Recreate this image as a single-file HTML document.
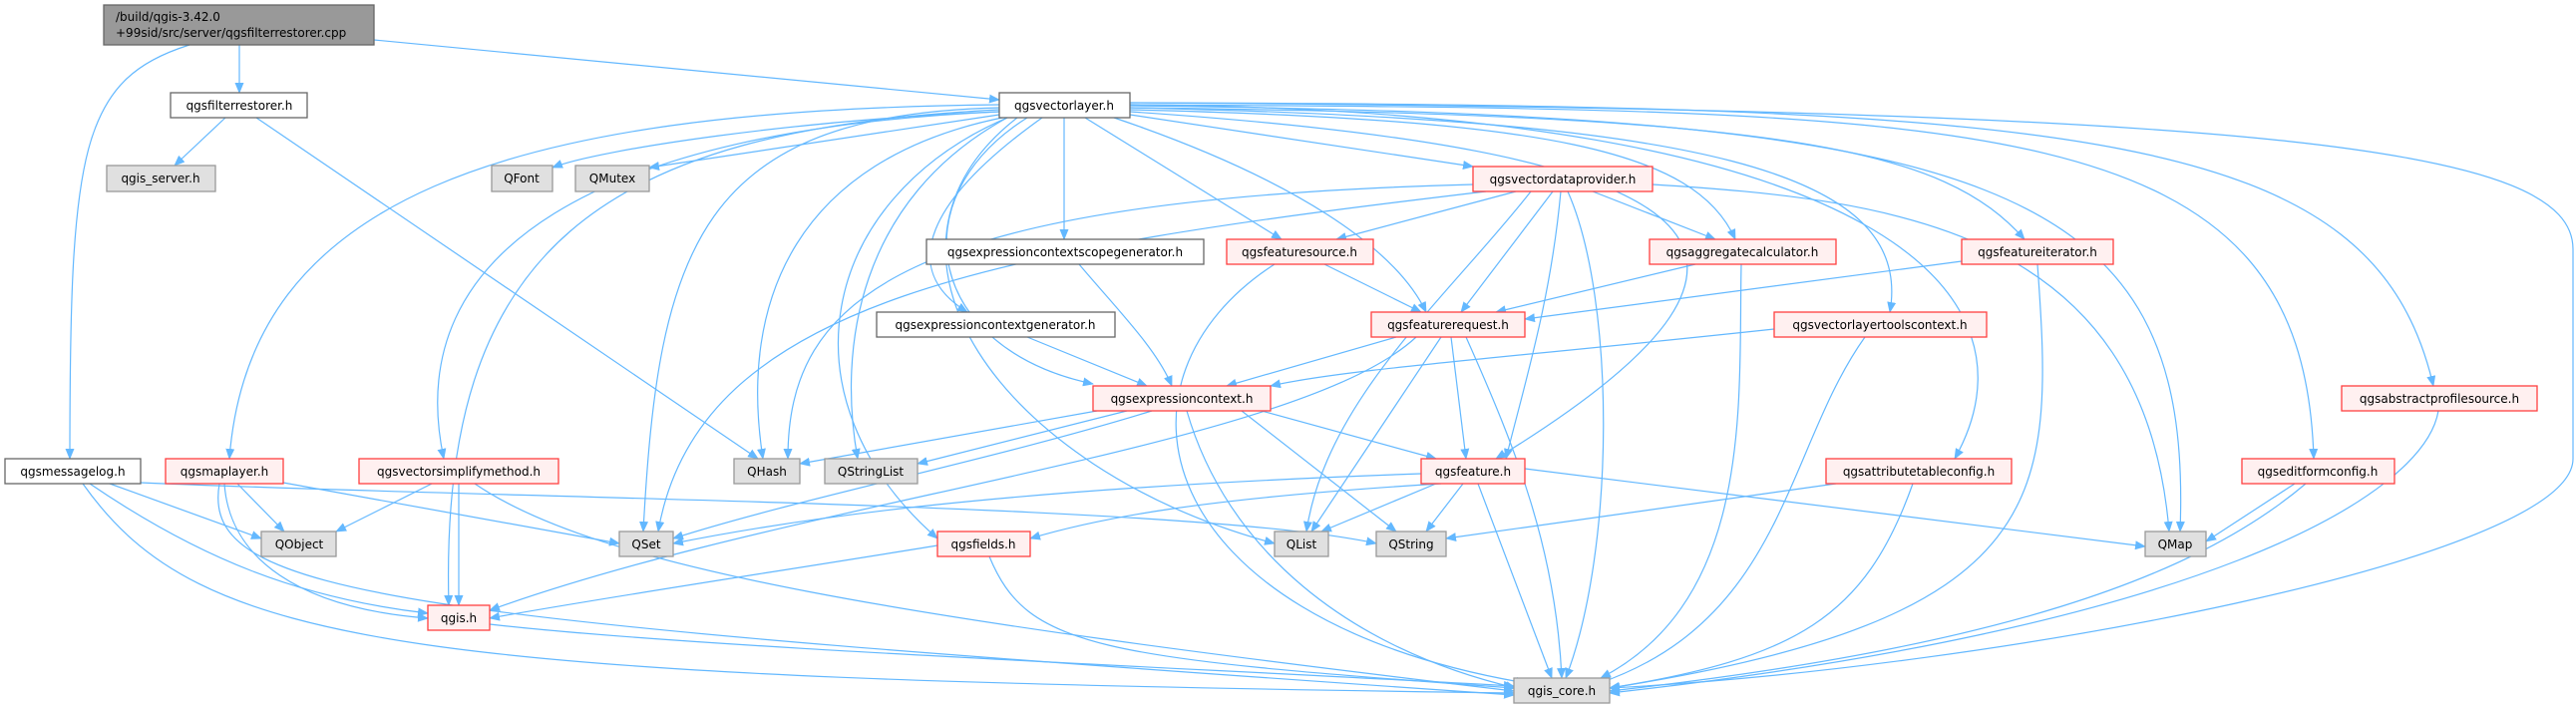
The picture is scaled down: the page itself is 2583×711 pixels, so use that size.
<!DOCTYPE html>
<html><head><meta charset="utf-8"><style>
html,body{margin:0;padding:0;background:#fff;}
svg{display:block;}
text{font-family:"DejaVu Sans","Liberation Sans",sans-serif;font-size:12px;fill:#000;}
.e{fill:none;stroke:#63b8ff;stroke-width:1.2;marker-end:url(#a);}
.r{fill:#fff0f0;stroke:#ff4040;stroke-width:1.3;}
.g{fill:#e0e0e0;stroke:#999;stroke-width:1.3;}
.w{fill:#fff;stroke:#666;stroke-width:1.3;}
</style></head><body>
<svg width="2583" height="711" viewBox="0 0 2583 711" xmlns="http://www.w3.org/2000/svg">
<defs><marker id="a" markerWidth="11" markerHeight="9" refX="10" refY="4.5" orient="auto" markerUnits="userSpaceOnUse"><path d="M0,0 L11,4.5 L0,9z" fill="#63b8ff"/></marker></defs>
<g>
<path class="e" d="M240 45 L240 93"/>
<path class="e" d="M375 40 L1002 100"/>
<path class="e" d="M190 45 C80 80,70 150,70 460"/>
<path class="e" d="M226 118 L175 166"/>
<path class="e" d="M257 118 L760 460"/>
<path class="e" d="M1002 112 C800 120,600 150,554 168"/>
<path class="e" d="M1002 115 L651 168"/>
<path class="e" d="M1002 108 C700 115,660 250,645 533"/>
<path class="e" d="M1005 118 C800 160,740 300,765 460"/>
<path class="e" d="M1010 118 C860 200,840 350,860 460"/>
<path class="e" d="M1002 110 C600 130,440 250,450 607"/>
<path class="e" d="M1002 105 C500 110,250 200,230 460"/>
<path class="e" d="M1002 112 C600 130,400 250,445 460"/>
<path class="e" d="M1010 118 C820 200,780 400,940 540"/>
<path class="e" d="M1030 118 C900 200,930 350,1096 385"/>
<path class="e" d="M1067 118 L1067 240"/>
<path class="e" d="M1045 118 C930 200,900 270,970 313"/>
<path class="e" d="M1088 118 L1285 240"/>
<path class="e" d="M1133 115 L1477 167"/>
<path class="e" d="M1117 118 C1300 180,1400 250,1430 313"/>
<path class="e" d="M1133 110 C1550 120,1700 150,1740 240"/>
<path class="e" d="M1133 108 C1800 115,1950 150,2030 240"/>
<path class="e" d="M1133 108 C1700 120,1920 170,1895 313"/>
<path class="e" d="M1133 112 C1700 150,1860 240,1500 460"/>
<path class="e" d="M1133 105 C1900 110,2050 300,1960 460"/>
<path class="e" d="M1133 105 C2000 110,2310 110,2320 460"/>
<path class="e" d="M1133 103 C2100 105,2380 130,2440 387"/>
<path class="e" d="M1133 106 C2000 115,2200 180,2186 533"/>
<path class="e" d="M1020 118 C850 250,1000 470,1278 545"/>
<path class="e" d="M1133 103 C2300 110,2580 150,2580 250 L2580 460 C2580 560,2000 670,1614 690"/>
<path class="e" d="M1520 192 L1340 240"/>
<path class="e" d="M1597 192 L1720 240"/>
<path class="e" d="M1557 192 L1465 313"/>
<path class="e" d="M1565 192 C1555 300,1530 380,1510 460"/>
<path class="e" d="M1477 185 C900 200,790 300,790 460"/>
<path class="e" d="M1490 192 C1000 250,700 300,660 533"/>
<path class="e" d="M1535 192 C1450 300,1330 400,1310 533"/>
<path class="e" d="M1657 185 C1900 200,2150 230,2175 533"/>
<path class="e" d="M1572 192 C1620 300,1620 550,1570 680"/>
<path class="e" d="M1328 265 L1425 313"/>
<path class="e" d="M1278 265 C1100 380,1150 620,1530 685"/>
<path class="e" d="M1082 265 C1120 310,1160 350,1175 387"/>
<path class="e" d="M1030 338 L1150 387"/>
<path class="e" d="M1700 265 L1500 313"/>
<path class="e" d="M1746 265 C1743 400,1760 600,1605 680"/>
<path class="e" d="M1967 262 L1529 320"/>
<path class="e" d="M2043 265 C2060 500,2060 620,1614 690"/>
<path class="e" d="M1779 330 C1500 360,1350 370,1274 387"/>
<path class="e" d="M1870 338 C1790 450,1790 620,1604 685"/>
<path class="e" d="M1400 338 L1230 387"/>
<path class="e" d="M1455 338 L1470 460"/>
<path class="e" d="M1445 338 L1315 533"/>
<path class="e" d="M1470 338 C1520 450,1560 550,1566 680"/>
<path class="e" d="M1420 338 C1300 450,800 500,491 612"/>
<path class="e" d="M1100 412 L802 465"/>
<path class="e" d="M1130 412 L920 465"/>
<path class="e" d="M1155 412 C1000 460,800 500,675 540"/>
<path class="e" d="M1245 412 L1400 533"/>
<path class="e" d="M1265 412 L1440 460"/>
<path class="e" d="M1190 412 C1230 550,1350 650,1520 690"/>
<path class="e" d="M1425 475 C1000 490,800 520,675 545"/>
<path class="e" d="M1440 485 L1325 533"/>
<path class="e" d="M1467 485 L1430 533"/>
<path class="e" d="M1529 470 L2151 548"/>
<path class="e" d="M1445 485 C1200 500,1100 520,1033 540"/>
<path class="e" d="M1482 485 L1556 680"/>
<path class="e" d="M940 547 C800 570,600 600,491 620"/>
<path class="e" d="M992 558 C1030 650,1100 660,1518 690"/>
<path class="e" d="M1841 485 L1450 540"/>
<path class="e" d="M1918 485 C1870 620,1800 660,1614 690"/>
<path class="e" d="M2301 485 L2212 543"/>
<path class="e" d="M2312 485 C2200 580,2000 650,1614 693"/>
<path class="e" d="M2445 412 C2430 500,2200 630,1614 695"/>
<path class="e" d="M110 485 L262 540"/>
<path class="e" d="M90 485 C200 560,300 600,429 615"/>
<path class="e" d="M83 485 C200 650,400 680,1518 695"/>
<path class="e" d="M141 484 C500 500,1200 505,1380 545"/>
<path class="e" d="M238 485 L285 533"/>
<path class="e" d="M284 484 L621 545"/>
<path class="e" d="M225 485 C230 560,300 610,429 620"/>
<path class="e" d="M220 485 C200 600,400 620,1518 697"/>
<path class="e" d="M433 485 L337 533"/>
<path class="e" d="M460 485 L460 607"/>
<path class="e" d="M476 485 C600 570,900 620,1518 693"/>
<path class="e" d="M491 626 C700 650,1200 670,1518 688"/>
</g>
<g text-anchor="middle">
<rect x="104" y="5" width="271" height="40" fill="#999" stroke="#666" stroke-width="1.3"/>
<text x="116" y="21" text-anchor="start">/build/qgis-3.42.0</text>
<text x="116" y="37" text-anchor="start">+99sid/src/server/qgsfilterrestorer.cpp</text>

<rect class="w" x="171" y="93" width="137" height="25"/><text x="240" y="110">qgsfilterrestorer.h</text>
<rect class="g" x="107" y="166" width="109" height="26"/><text x="161" y="183">qgis_server.h</text>
<rect class="g" x="493" y="166" width="61" height="26"/><text x="523" y="183">QFont</text>
<rect class="g" x="577" y="166" width="74" height="26"/><text x="614" y="183">QMutex</text>
<rect class="w" x="1002" y="93" width="131" height="25"/><text x="1067" y="110">qgsvectorlayer.h</text>
<rect class="w" x="929" y="240" width="278" height="25"/><text x="1068" y="257">qgsexpressioncontextscopegenerator.h</text>
<rect class="r" x="1230" y="240" width="147" height="25"/><text x="1303" y="257">qgsfeaturesource.h</text>
<rect class="w" x="879" y="313" width="239" height="25"/><text x="998" y="330">qgsexpressioncontextgenerator.h</text>
<rect class="r" x="1375" y="313" width="154" height="25"/><text x="1452" y="330">qgsfeaturerequest.h</text>
<rect class="r" x="1477" y="167" width="180" height="25"/><text x="1567" y="184">qgsvectordataprovider.h</text>
<rect class="r" x="1654" y="240" width="187" height="25"/><text x="1747" y="257">qgsaggregatecalculator.h</text>
<rect class="r" x="1967" y="240" width="152" height="25"/><text x="2043" y="257">qgsfeatureiterator.h</text>
<rect class="r" x="1779" y="313" width="213" height="25"/><text x="1885" y="330">qgsvectorlayertoolscontext.h</text>
<rect class="r" x="1096" y="387" width="178" height="25"/><text x="1185" y="404">qgsexpressioncontext.h</text>
<rect class="r" x="2348" y="387" width="196" height="25"/><text x="2446" y="404">qgsabstractprofilesource.h</text>
<rect class="g" x="736" y="460" width="66" height="25"/><text x="769" y="477">QHash</text>
<rect class="g" x="827" y="460" width="93" height="25"/><text x="873" y="477">QStringList</text>
<rect class="w" x="5" y="460" width="136" height="25"/><text x="73" y="477">qgsmessagelog.h</text>
<rect class="r" x="166" y="460" width="118" height="25"/><text x="225" y="477">qgsmaplayer.h</text>
<rect class="r" x="360" y="460" width="200" height="25"/><text x="460" y="477">qgsvectorsimplifymethod.h</text>
<rect class="r" x="1425" y="460" width="104" height="25"/><text x="1477" y="477">qgsfeature.h</text>
<rect class="r" x="1831" y="460" width="186" height="25"/><text x="1924" y="477">qgsattributetableconfig.h</text>
<rect class="r" x="2248" y="460" width="153" height="25"/><text x="2324" y="477">qgseditformconfig.h</text>
<rect class="g" x="262" y="533" width="75" height="25"/><text x="300" y="550">QObject</text>
<rect class="g" x="621" y="533" width="54" height="25"/><text x="648" y="550">QSet</text>
<rect class="r" x="940" y="533" width="93" height="25"/><text x="986" y="550">qgsfields.h</text>
<rect class="g" x="1278" y="533" width="54" height="25"/><text x="1305" y="550">QList</text>
<rect class="g" x="1380" y="533" width="70" height="25"/><text x="1415" y="550">QString</text>
<rect class="g" x="2151" y="533" width="61" height="25"/><text x="2181" y="550">QMap</text>
<rect class="r" x="429" y="607" width="62" height="25"/><text x="460" y="624">qgis.h</text>
<rect class="g" x="1518" y="680" width="96" height="25"/><text x="1566" y="697">qgis_core.h</text>
</g>
</svg>
</body></html>
